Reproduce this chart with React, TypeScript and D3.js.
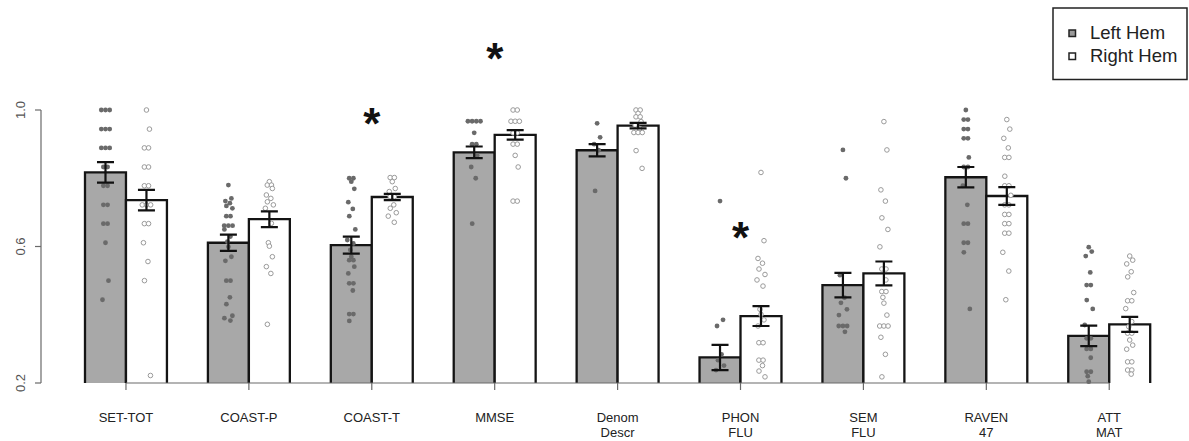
import React from "react";
import * as d3 from "d3";

const categories = ["SET-TOT", "COAST-P", "COAST-T", "MMSE", "Denom\nDescr", "PHON\nFLU", "SEM\nFLU", "RAVEN\n47", "ATT\nMAT"];
const series = ["Left Hem", "Right Hem"];
const leftMeans = [0.817, 0.611, 0.604, 0.876, 0.882, 0.275, 0.487, 0.803, 0.338];
const leftSE = [0.030, 0.024, 0.025, 0.017, 0.018, 0.037, 0.036, 0.030, 0.030];
const rightMeans = [0.736, 0.680, 0.745, 0.927, 0.954, 0.396, 0.521, 0.748, 0.372];
const rightSE = [0.030, 0.023, 0.009, 0.014, 0.008, 0.029, 0.035, 0.026, 0.022];
const yTicks = [0.2, 0.6, 1.0];
const significant = [
  { cat: "COAST-T", y: 0.985 },
  { cat: "MMSE", y: 1.175 },
  { cat: "PHON\nFLU", y: 0.65 },
];

const leftDots = [
  [1, 1, 1, 0.944, 0.944, 0.944, 0.889, 0.889, 0.889, 0.833, 0.833, 0.778, 0.778, 0.722, 0.722, 0.667, 0.667, 0.611, 0.5, 0.444],
  [0.78, 0.741, 0.733, 0.727, 0.719, 0.712, 0.689, 0.689, 0.661, 0.661, 0.661, 0.65, 0.629, 0.614, 0.599, 0.57, 0.558, 0.5, 0.5, 0.451, 0.431, 0.397, 0.39, 0.383],
  [0.8, 0.8, 0.79, 0.769, 0.73, 0.71, 0.689, 0.65, 0.619, 0.609, 0.59, 0.57, 0.56, 0.56, 0.541, 0.521, 0.492, 0.492, 0.471, 0.402, 0.402, 0.382],
  [0.967, 0.967, 0.967, 0.967, 0.933, 0.9, 0.9, 0.867, 0.833, 0.8, 0.667],
  [0.961, 0.92, 0.9, 0.882, 0.763],
  [0.733, 0.385, 0.367, 0.284, 0.267, 0.251, 0.238],
  [0.883, 0.8, 0.516, 0.45, 0.435, 0.416, 0.399, 0.367, 0.367, 0.367, 0.35],
  [1, 0.972, 0.972, 0.944, 0.944, 0.917, 0.917, 0.861, 0.833, 0.833, 0.778, 0.722, 0.667, 0.667, 0.611, 0.611, 0.583, 0.417],
  [0.598, 0.585, 0.572, 0.524, 0.487, 0.487, 0.443, 0.417, 0.37, 0.331, 0.331, 0.3, 0.3, 0.274, 0.233, 0.233, 0.22, 0.204],
];
const rightDots = [
  [1, 0.944, 0.889, 0.889, 0.833, 0.833, 0.778, 0.778, 0.722, 0.722, 0.722, 0.667, 0.667, 0.611, 0.556, 0.5, 0.222],
  [0.79, 0.78, 0.78, 0.77, 0.751, 0.741, 0.731, 0.722, 0.712, 0.668, 0.611, 0.601, 0.57, 0.541, 0.521, 0.372],
  [0.802, 0.802, 0.79, 0.77, 0.761, 0.746, 0.746, 0.722, 0.712, 0.699, 0.689, 0.671],
  [1, 1, 0.967, 0.967, 0.967, 0.933, 0.933, 0.9, 0.9, 0.867, 0.833, 0.733, 0.733],
  [1, 1, 0.99, 0.98, 0.98, 0.966, 0.956, 0.946, 0.934, 0.934, 0.934, 0.881, 0.829],
  [0.817, 0.617, 0.565, 0.551, 0.534, 0.518, 0.502, 0.484, 0.416, 0.401, 0.385, 0.367, 0.318, 0.318, 0.267, 0.267, 0.251, 0.235, 0.218],
  [0.966, 0.883, 0.766, 0.733, 0.684, 0.65, 0.599, 0.534, 0.534, 0.502, 0.468, 0.468, 0.451, 0.434, 0.399, 0.367, 0.367, 0.367, 0.334, 0.284, 0.218],
  [0.972, 0.944, 0.917, 0.889, 0.861, 0.861, 0.806, 0.778, 0.778, 0.75, 0.722, 0.722, 0.694, 0.694, 0.667, 0.667, 0.639, 0.639, 0.583, 0.528, 0.444],
  [0.572, 0.56, 0.549, 0.526, 0.511, 0.465, 0.441, 0.441, 0.418, 0.38, 0.365, 0.346, 0.346, 0.326, 0.311, 0.299, 0.262, 0.262, 0.238, 0.238, 0.226],
];

const W = 1189;
const H = 441;
const FONT = "'Liberation Sans', Arial, Helvetica, sans-serif";
const singleJitter = [0, 3, -3, 1.5, -2, 4, -4, 2, -1];

function jitter(vals: number[]): number[] {
  const out: number[] = new Array(vals.length).fill(0);
  let i = 0;
  let s = 0;
  while (i < vals.length) {
    let j = i;
    while (j + 1 < vals.length && Math.abs(vals[j + 1] - vals[i]) < 0.004) j++;
    const k = j - i + 1;
    if (k === 1) {
      out[i] = singleJitter[s % singleJitter.length];
      s++;
    } else {
      for (let m = 0; m < k; m++) out[i + m] = (m - (k - 1) / 2) * 4.2;
    }
    i = j + 1;
  }
  return out;
}

export default function App() {
  const x0 = d3.scaleBand<string>().domain(categories).range([85, 1150.2]).paddingInner(1 / 3).paddingOuter(0);
  const x1 = d3.scaleBand<string>().domain(series).range([0, x0.bandwidth()]).padding(0);
  const y = d3.scaleLinear().domain([0.2, 1.0]).range([383, 110]);
  const bw = x1.bandwidth();
  const cap = 8.5;

  const groups = categories.map((c, i) => ({
    cat: c,
    bars: [
      { s: series[0], mean: leftMeans[i], se: leftSE[i], dots: leftDots[i] },
      { s: series[1], mean: rightMeans[i], se: rightSE[i], dots: rightDots[i] },
    ],
  }));

  const centers = categories.map((c) => (x0(c) as number) + x0.bandwidth() / 2);

  return (
    <svg width={W} height={H} style={{ position: "absolute", left: 0, top: 0, background: "#fff" }} fontFamily={FONT}>
      <rect x={0} y={0} width={W} height={H} fill="#fff" />
      {/* bars */}
      {groups.map((g) =>
        g.bars.map((b) => {
          const bx = (x0(g.cat) as number) + (x1(b.s) as number);
          const top = y(b.mean);
          const bottom = y(0.2);
          return (
            <g key={g.cat + b.s}>
              <rect x={bx} y={top} width={bw} height={bottom - top} fill={b.s === series[0] ? "#a8a8a8" : "#ffffff"} stroke="none" />
              <path d={`M${bx},${bottom}V${top}H${bx + bw}V${bottom}`} fill="none" stroke="#141414" strokeWidth={2.3} />
            </g>
          );
        })
      )}
      {/* x axis */}
      <line x1={centers[0]} x2={centers[centers.length - 1]} y1={y(0.2)} y2={y(0.2)} stroke="#6a6a6a" strokeWidth={1.2} />
      {centers.map((cx, i) => (
        <line key={"xt" + i} x1={cx} x2={cx} y1={y(0.2)} y2={y(0.2) + 7} stroke="#6a6a6a" strokeWidth={1.2} />
      ))}
      {/* dots */}
      {groups.map((g) =>
        g.bars.map((b) => {
          const cx = (x0(g.cat) as number) + (x1(b.s) as number) + bw / 2;
          const jit = jitter(b.dots);
          const isLeft = b.s === series[0];
          return b.dots.map((v, k) => (
            <circle
              key={g.cat + b.s + k}
              cx={cx + jit[k]}
              cy={y(v)}
              r={isLeft ? 2.4 : 2.3}
              fill={isLeft ? "#6a6a6a" : "#ffffff"}
              stroke={isLeft ? "none" : "#9a9a9a"}
              strokeWidth={1}
            />
          ));
        })
      )}
      {/* error bars */}
      {groups.map((g) =>
        g.bars.map((b) => {
          const cx = (x0(g.cat) as number) + (x1(b.s) as number) + bw / 2;
          const yt = y(b.mean + b.se);
          const yb = y(b.mean - b.se);
          return (
            <path
              key={"e" + g.cat + b.s}
              d={`M${cx},${yt}V${yb}M${cx - cap},${yt}H${cx + cap}M${cx - cap},${yb}H${cx + cap}`}
              stroke="#111"
              strokeWidth={2.2}
              fill="none"
            />
          );
        })
      )}
      {/* y axis */}
      <line x1={41} x2={41} y1={y(0.2)} y2={y(1.0)} stroke="#6a6a6a" strokeWidth={1.2} />
      {yTicks.map((t) => (
        <g key={"yt" + t}>
          <line x1={35} x2={41} y1={y(t)} y2={y(t)} stroke="#6a6a6a" strokeWidth={1.2} />
          <text transform={`translate(25,${y(t)}) rotate(-90)`} textAnchor="middle" fontSize={13} fill="#555">
            {t.toFixed(1)}
          </text>
        </g>
      ))}
      {/* x labels */}
      {categories.map((c, i) => (
        <text key={"xl" + c} x={centers[i]} y={421.5} textAnchor="middle" fontSize={13} fill="#222">
          {c.split("\n").map((line, li) => (
            <tspan key={li} x={centers[i]} dy={li === 0 ? 0 : 15.7}>
              {line}
            </tspan>
          ))}
        </text>
      ))}
      {/* significance */}
      {significant.map((s) => (
        <text key={"s" + s.cat} x={(x0(s.cat) as number) + x0.bandwidth() / 2} y={y(s.y) + 24} textAnchor="middle" fontSize={44} fontWeight="bold" fill="#111">
          *
        </text>
      ))}
      {/* legend */}
      <rect x={1053} y={8} width={134} height={71.5} fill="#fff" stroke="#222" strokeWidth={1.5} />
      {series.map((s, i) => (
        <g key={"lg" + s}>
          <rect x={1069} y={30 + i * 23} width={6.5} height={6.5} fill={i === 0 ? "#9a9a9a" : "#fff"} stroke="#222" strokeWidth={1.5} />
          <text x={1090} y={39 + i * 23} fontSize={18.5} fill="#222">
            {s}
          </text>
        </g>
      ))}
    </svg>
  );
}
